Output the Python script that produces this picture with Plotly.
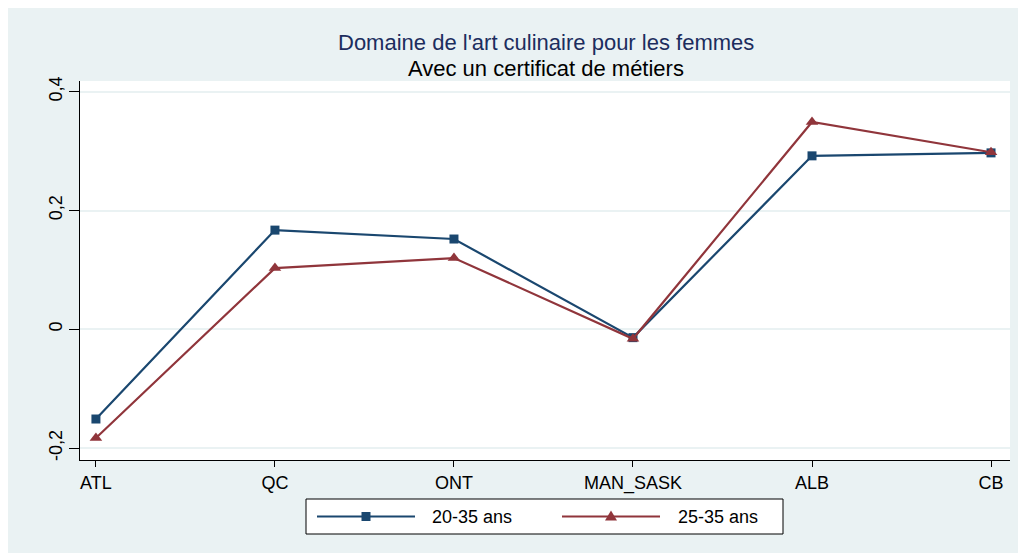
import plotly.graph_objects as go

categories = ["ATL", "QC", "ONT", "MAN_SASK", "ALB", "CB"]
series_names = ["20-35 ans", "25-35 ans"]
values_20_35 = [-0.151, 0.167, 0.152, -0.014, 0.292, 0.297]
values_25_35 = [-0.183, 0.103, 0.120, -0.016, 0.349, 0.298]
y_tickvals = [-0.2, 0, 0.2, 0.4]
y_ticktext = ["-0,2", "0", "0,2", "0,4"]

NAVY = "#1a476f"
MAROON = "#90353b"
BG = "#EAF2F3"
FONT = "Liberation Sans, Arial, sans-serif"

W, H = 1026, 553
OFF = 8  # page body margin
L, R, T, B = 80 - OFF, 1010 - OFF, 81 - OFF, 460 - OFF  # plot area in figure px


def px(x):
    """page x pixel -> paper fraction"""
    return (x - OFF - L) / (R - L)


def py(y):
    """page y pixel -> paper fraction"""
    return (B - (y - OFF)) / (B - T)


fig = go.Figure()
fig.add_trace(go.Scatter(
    x=categories, y=values_20_35, name=series_names[0], mode="lines+markers",
    line=dict(color=NAVY, width=2.2),
    marker=dict(symbol="square", size=9, color=NAVY),
    showlegend=False,
))
fig.add_trace(go.Scatter(
    x=categories, y=values_25_35, name=series_names[1], mode="lines+markers",
    line=dict(color=MAROON, width=2.2),
    marker=dict(symbol="triangle-up", size=11, color=MAROON),
    showlegend=False,
))

shapes = [
    dict(type="rect", xref="paper", yref="paper", x0=px(306), x1=px(783),
         y0=py(534), y1=py(499), fillcolor="white", line=dict(color="black", width=1)),
]
annotations = []
ly = py(516.5)
legend_items = [
    (317, 415, 366, 430, NAVY, "square"),
    (562, 660, 611, 676, MAROON, "triangle"),
]
for (x0, x1, xm, xt, col, sym), name in zip(legend_items, series_names):
    shapes.append(dict(type="line", xref="paper", yref="paper", x0=px(x0), x1=px(x1),
                       y0=ly, y1=ly, line=dict(color=col, width=2.2)))
    if sym == "square":
        shapes.append(dict(type="rect", xref="paper", yref="paper", xsizemode="pixel",
                           ysizemode="pixel", xanchor=px(xm), yanchor=ly,
                           x0=-4.5, x1=4.5, y0=-4.5, y1=4.5, fillcolor=col,
                           line=dict(width=0)))
    else:
        shapes.append(dict(type="path", xref="paper", yref="paper", xsizemode="pixel",
                           ysizemode="pixel", xanchor=px(xm), yanchor=ly,
                           path="M -6 -4 L 6 -4 L 0 6 Z", fillcolor=col,
                           line=dict(width=0)))
    annotations.append(dict(x=px(xt), y=ly, xref="paper", yref="paper", text=name,
                            showarrow=False, xanchor="left", yanchor="middle",
                            font=dict(family=FONT, size=18, color="black")))

annotations.append(dict(x=px(546), y=py(42), xref="paper", yref="paper",
                        text="Domaine de l'art culinaire pour les femmes", showarrow=False,
                        xanchor="center", yanchor="middle",
                        font=dict(family=FONT, size=22, color="#1c2d5e")))
annotations.append(dict(x=px(546), y=py(68), xref="paper", yref="paper",
                        text="Avec un certificat de métiers", showarrow=False,
                        xanchor="center", yanchor="middle",
                        font=dict(family=FONT, size=22, color="black")))

fig.update_layout(
    width=W, height=H,
    margin=dict(l=L, r=W - R, t=T, b=H - B, pad=0),
    paper_bgcolor=BG, plot_bgcolor="white",
    font=dict(family=FONT, color="black"),
    shapes=shapes, annotations=annotations,
    showlegend=False,
    xaxis=dict(type="category", range=[-0.089, 5.106], showgrid=False,
               showline=True, linecolor="black", linewidth=1.2,
               ticks="outside", ticklen=6, tickcolor="black", tickwidth=1.2,
               tickfont=dict(family=FONT, size=18, color="black"), zeroline=False),
    yaxis=dict(range=[-0.220, 0.418], tickvals=y_tickvals, ticktext=y_ticktext,
               showgrid=True, gridcolor=BG, gridwidth=1.5,
               showline=True, linecolor="black", linewidth=1.2,
               ticks="outside", ticklen=10, tickcolor="black", tickwidth=1.2,
               tickangle=-90, tickfont=dict(family=FONT, size=18, color="black"),
               zeroline=False),
)

fig.write_html("out.html")
